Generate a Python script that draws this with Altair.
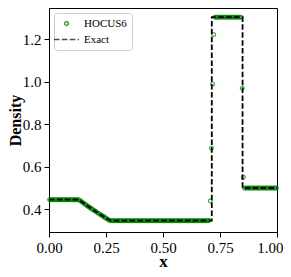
import altair as alt
import pandas as pd

# ---- data ----
series_names = ["HOCUS6", "Exact"]

# cell-centred mesh (200 cells on [0, 1])
x_cells = [round(0.0025 + 0.005 * i, 4) for i in range(200)]

rho_hocus6 = [
    0.445, 0.445, 0.445, 0.445, 0.445, 0.445, 0.445, 0.445, 0.445, 0.445,
    0.445, 0.445, 0.445, 0.445, 0.445, 0.445, 0.445, 0.445, 0.445, 0.445,
    0.445, 0.445, 0.445, 0.445, 0.445, 0.445, 0.4440, 0.4401, 0.4362, 0.4323,
    0.4284, 0.4246, 0.4207, 0.4169, 0.4132, 0.4095, 0.4057, 0.4021, 0.3984, 0.3948,
    0.3912, 0.3876, 0.3841, 0.3806, 0.3771, 0.3736, 0.3702, 0.3667, 0.3633, 0.3600,
    0.3566, 0.3533, 0.3500, 0.3470, 0.3465, 0.3463, 0.3463, 0.3463, 0.3463, 0.3463,
    0.3463, 0.3463, 0.3463, 0.3463, 0.3463, 0.3463, 0.3463, 0.3463, 0.3463, 0.3463,
    0.3463, 0.3463, 0.3463, 0.3463, 0.3463, 0.3463, 0.3463, 0.3463, 0.3463, 0.3463,
    0.3463, 0.3463, 0.3463, 0.3463, 0.3463, 0.3463, 0.3463, 0.3463, 0.3463, 0.3463,
    0.3463, 0.3463, 0.3463, 0.3463, 0.3463, 0.3463, 0.3463, 0.3463, 0.3463, 0.3463,
    0.3463, 0.3463, 0.3463, 0.3463, 0.3463, 0.3463, 0.3463, 0.3463, 0.3463, 0.3463,
    0.3463, 0.3463, 0.3463, 0.3463, 0.3463, 0.3463, 0.3463, 0.3463, 0.3463, 0.3463,
    0.3463, 0.3463, 0.3463, 0.3463, 0.3463, 0.3463, 0.3463, 0.3463, 0.3463, 0.3463,
    0.3463, 0.3463, 0.3463, 0.3463, 0.3463, 0.3463, 0.3463, 0.3463, 0.3463, 0.3463,
    0.3480, 0.439, 0.687, 0.989, 1.222, 1.304, 1.304, 1.304, 1.304, 1.304,
    1.304, 1.304, 1.304, 1.304, 1.304, 1.304, 1.304, 1.304, 1.304, 1.304,
    1.304, 1.304, 1.304, 1.304, 1.304, 1.304, 1.304, 1.304, 1.304, 0.969,
    0.551, 0.500, 0.500, 0.500, 0.500, 0.500, 0.500, 0.500, 0.500, 0.500,
    0.500, 0.500, 0.500, 0.500, 0.500, 0.500, 0.500, 0.500, 0.500, 0.500,
    0.500, 0.500, 0.500, 0.500, 0.500, 0.500, 0.500, 0.500, 0.500, 0.500,
]

x_exact = [0.0, 0.131, 0.16, 0.19, 0.22, 0.25, 0.27, 0.714, 0.714, 0.849, 0.849, 1.0]
rho_exact = [0.445, 0.445, 0.4227, 0.4003, 0.3789, 0.3583, 0.3463, 0.3463,
             1.3044, 1.3044, 0.500, 0.500]

x_ticks = [0.0, 0.25, 0.5, 0.75, 1.0]
y_ticks = [0.4, 0.6, 0.8, 1.0, 1.2]

df_pts = pd.DataFrame({"x": x_cells, "rho": rho_hocus6, "series": "HOCUS6"})
df_ex = pd.DataFrame({"x": x_exact, "rho": rho_exact, "series": "Exact",
                      "order": list(range(len(x_exact)))})

FONT = "Liberation Serif"

x_enc = alt.X("x:Q", title="x",
              scale=alt.Scale(domain=[0, 1], nice=False, zero=False),
              axis=alt.Axis(values=x_ticks, format=".2f", titleY=34,
                            titleBaseline="alphabetic", labelPadding=3,
                            labelAlign=alt.condition("datum.value == 1", alt.value("right"), alt.value("center")),
                            labelOffset=alt.condition("datum.value == 1", alt.value(6), alt.value(0))))
y_enc = alt.Y("rho:Q", title="Density",
              scale=alt.Scale(domain=[0.293, 1.347], nice=False, zero=False),
              axis=alt.Axis(values=y_ticks, format=".1f", titleX=-29,
                            titleFontSize=16,
                            titleBaseline="alphabetic", labelPadding=3))

legend = alt.Legend(orient="top-left", title=None, offset=5, padding=5,
                    fillColor="white", strokeColor="#cccccc", cornerRadius=3,
                    labelFont=FONT, labelFontSize=11, labelColor="black",
                    rowPadding=3, symbolStrokeWidth=1.6, labelOffset=10)

color = alt.Color("series:N", legend=legend,
                  scale=alt.Scale(domain=series_names, range=["#008000", "black"]))
dash = alt.StrokeDash("series:N", legend=legend,
                      scale=alt.Scale(domain=series_names, range=[[1, 0], [5.5, 2.4]]))
shape = alt.Shape("series:N", legend=legend,
                  scale=alt.Scale(domain=series_names, range=["circle", "M-2,0H2"]))
size = alt.Size("series:N", legend=legend,
                scale=alt.Scale(type="ordinal", domain=series_names, range=[14, 156]))

points = alt.Chart(df_pts).mark_point(filled=False, strokeWidth=1.2).encode(
    x=x_enc, y=y_enc, color=color, shape=shape, size=size, strokeDash=dash
)

exact = alt.Chart(df_ex).mark_line(strokeWidth=1.8).encode(
    x=x_enc, y=y_enc, color=color, strokeDash=dash, order="order:Q"
)

chart = alt.layer(points, exact).properties(
    width=228, height=224,
    padding={"left": 41, "top": 0, "right": 6, "bottom": 37},
    autosize=alt.AutoSizeParams(type="none"),
).configure_view(
    stroke="black", strokeWidth=1
).configure_axis(
    grid=False, domainColor="black", domainWidth=1, tickColor="black",
    tickSize=5, tickWidth=1, labelFont=FONT, labelFontSize=15, labelColor="black",
    titleFont=FONT, titleFontSize=17, titleFontWeight="bold",
    titleColor="black", labelFlush=False, labelOverlap=False
)

chart.save("out.html", embed_options={"renderer": "svg", "actions": False})
